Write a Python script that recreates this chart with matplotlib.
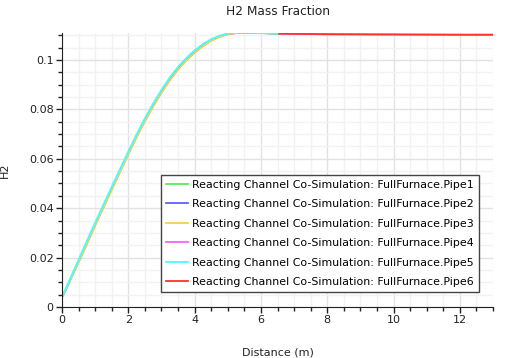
import matplotlib
matplotlib.use("Agg")
import matplotlib.pyplot as plt
from matplotlib.ticker import MultipleLocator

# distance along pipe (m) and H2 mass fraction
dist_a = [0.0, 0.0, 0.06, 0.5, 1.0, 1.5, 2.0, 2.25, 2.5, 2.75, 3.0, 3.25, 3.5, 3.75,
          4.0, 4.25, 4.5, 4.75, 5.0, 5.25, 5.5, 6.0, 6.55]
pipe1 = [0.0, 0.0040, 0.0055, 0.0185, 0.0335, 0.0480, 0.0623, 0.0692, 0.0757, 0.0817,
         0.0872, 0.0922, 0.0965, 0.1002, 0.1033, 0.1059, 0.1080, 0.1095, 0.1105, 0.1110,
         0.1111, 0.1109, 0.1106]
pipe2 = [0.0, 0.0040, 0.0055, 0.0183, 0.0332, 0.0477, 0.0620, 0.0689, 0.0754, 0.0814,
         0.0869, 0.0919, 0.0963, 0.1000, 0.1031, 0.1057, 0.1079, 0.1094, 0.1104, 0.1109,
         0.1111, 0.1109, 0.1106]
pipe3 = [0.0, 0.0040, 0.0055, 0.0181, 0.0330, 0.0475, 0.0618, 0.0687, 0.0752, 0.0812,
         0.0867, 0.0917, 0.0961, 0.0998, 0.1030, 0.1056, 0.1078, 0.1093, 0.1104, 0.1109,
         0.1111, 0.1109, 0.1106]
pipe5 = [0.0, 0.0042, 0.0058, 0.0192, 0.0342, 0.0487, 0.0630, 0.0699, 0.0764, 0.0824,
         0.0879, 0.0929, 0.0972, 0.1008, 0.1039, 0.1064, 0.1084, 0.1098, 0.1107, 0.1111,
         0.1112, 0.1109, 0.1106]

dist_b = [6.55, 8.0, 10.0, 12.0, 13.0]
pipe4 = [0.1106, 0.1104, 0.1103, 0.1102, 0.1102]
pipe6 = [0.1106, 0.1104, 0.1103, 0.1102, 0.1102]

label = "Reacting Channel Co-Simulation: FullFurnace.Pipe"
colors = ["#55ee55", "#6060ff", "#ffcc55", "#ff60ff", "#44ffff", "#ff3030"]
series = [(dist_a, pipe1), (dist_a, pipe2), (dist_a, pipe3),
          (dist_b, pipe4), (dist_a, pipe5), (dist_b, pipe6)]


def main():
    plt.rcParams["font.family"] = "DejaVu Sans"
    fig = plt.figure(figsize=(5.05, 3.58), dpi=100)
    ax = fig.add_axes([62 / 505, 1 - 307 / 358, 431 / 505, 274 / 358])

    for i, (x, y) in enumerate(series):
        ax.plot(x, y, color=colors[i], lw=1.3, label=label + str(i + 1))

    ax.set_xlim(0, 13)
    ax.set_ylim(0, 0.1109)
    ax.xaxis.set_major_locator(MultipleLocator(2))
    ax.xaxis.set_minor_locator(MultipleLocator(0.5))
    ax.yaxis.set_major_locator(MultipleLocator(0.02))
    ax.yaxis.set_minor_locator(MultipleLocator(0.005))
    ax.set_yticks([0, 0.02, 0.04, 0.06, 0.08, 0.1])
    ax.set_yticklabels(["0", "0.02", "0.04", "0.06", "0.08", "0.1"])
    ax.grid(which="major", color="#e2e2e2", lw=1)
    ax.grid(which="minor", color="#f2f2f2", lw=1)
    ax.set_axisbelow(True)
    for s in ["top", "right"]:
        ax.spines[s].set_visible(False)
    for s in ["left", "bottom"]:
        ax.spines[s].set_color("#222222")
    ax.tick_params(which="major", length=4, width=1, color="#222222",
                   labelsize=8, labelcolor="#222222", pad=2)
    ax.tick_params(which="minor", length=3, width=1, color="#222222")

    ax.set_title("H2 Mass Fraction", fontsize=8.7, color="#222222", pad=13)
    ax.set_xlabel("Distance (m)", fontsize=8, color="#222222")
    ax.set_ylabel("H2", fontsize=8, color="#222222")
    ax.xaxis.set_label_coords(0.5, -0.146)
    ax.yaxis.set_label_coords(-0.12, 0.5)

    leg = ax.legend(loc="lower right", bbox_to_anchor=(0.9675, 0.0547),
                    borderaxespad=0, fontsize=7.9, fancybox=False,
                    handlelength=2.0, labelspacing=0.86, handletextpad=0.4,
                    borderpad=0.45, framealpha=1)
    leg.get_frame().set_edgecolor("#444444")
    leg.get_frame().set_linewidth(1)

    plt.savefig("out.png", dpi=100)


if __name__ == '__main__':
    main()
